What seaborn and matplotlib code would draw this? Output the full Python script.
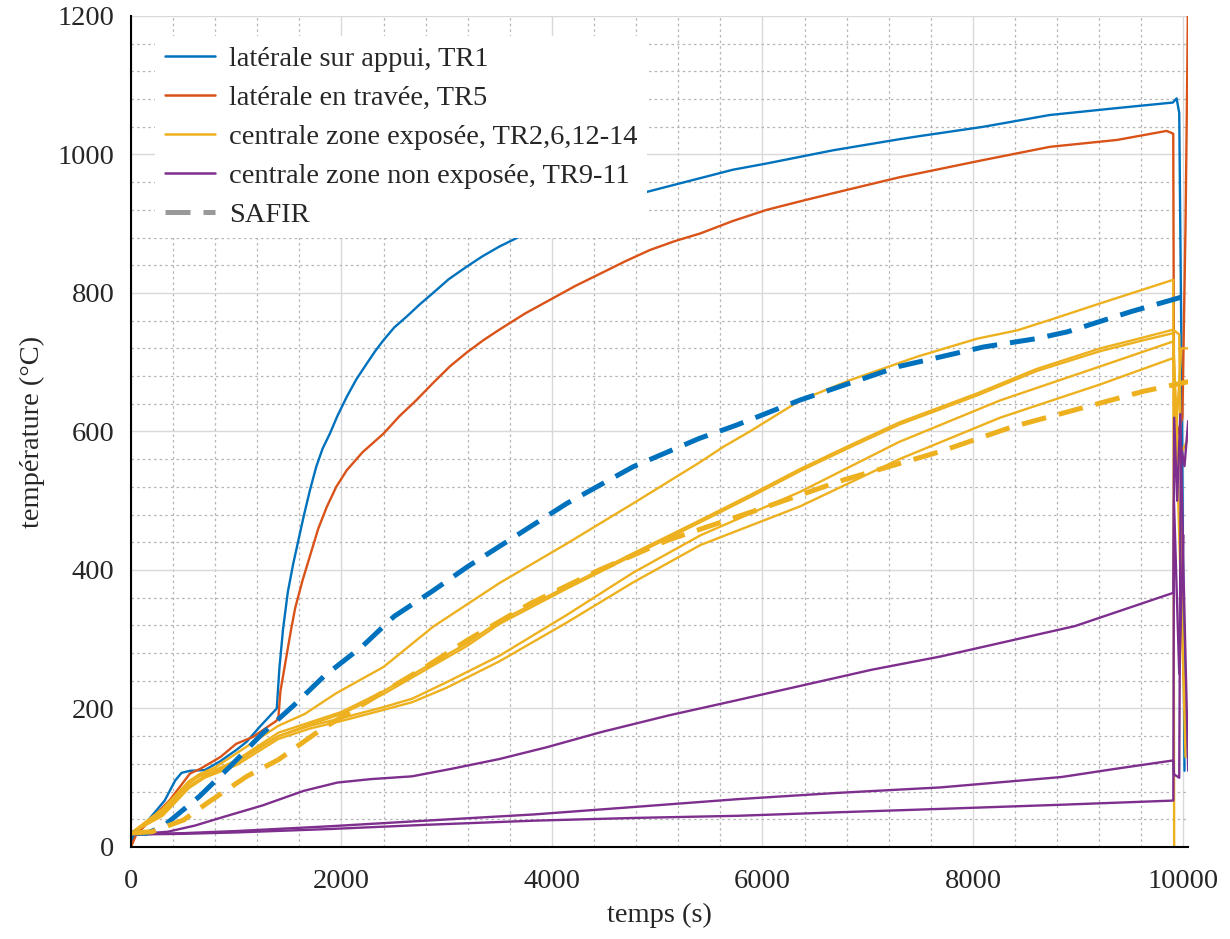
import matplotlib
matplotlib.use('Agg')
import matplotlib.pyplot as plt
import numpy as np
import pandas as pd
import seaborn as sns
from matplotlib.lines import Line2D
from matplotlib.ticker import MultipleLocator

# --- data (time in s, temperature in degC) ---
tr1_t = [0, 20, 60, 160, 320, 420, 480, 560, 700, 850, 1000, 1100, 1220, 1385, 1410, 1445,
         1490, 1540, 1640, 1700, 1760, 1820, 1890, 1960, 2050, 2140, 2240, 2320, 2400, 2500,
         2620, 2740, 2870, 3020, 3190, 3340, 3500, 3700, 3890, 4150, 4400, 4700, 5030, 5720,
         6040, 6670, 7300, 7470, 8100, 8730, 9370, 9900, 9935, 9960, 9985, 10010]
tr1_T = [0, 15, 20, 38, 67, 96, 107, 110, 111, 124, 140, 152, 173, 200, 258, 315,
         368, 408, 477, 515, 549, 575, 597, 622, 650, 675, 698, 716, 732, 750,
         766, 783, 800, 820, 838, 853, 867, 882, 895, 912, 925, 938, 951, 978,
         987, 1006, 1022, 1026, 1040, 1057, 1067, 1075, 1081, 1060, 650, 110]

tr5_t = [0, 50, 160, 370, 560, 660, 850, 1000, 1160, 1380, 1400, 1420, 1480, 1520, 1560,
         1630, 1700, 1780, 1860, 1950, 2050, 2200, 2400, 2550, 2710, 2870, 3030, 3190, 3350,
         3500, 3740, 3980, 4220, 4460, 4700, 4930, 5170, 5410, 5720, 6040, 6350, 6670,
         7300, 8100, 8730, 9370, 9840, 9903, 9912, 9950, 9990, 10020, 10035, 10048]
tr5_T = [0, 18, 35, 68, 106, 113, 130, 149, 159, 182, 186, 225, 278, 313, 345,
         385, 420, 460, 491, 520, 544, 570, 597, 622, 645, 670, 694, 714, 732,
         747, 770, 790, 810, 828, 846, 862, 875, 886, 904, 920, 932, 944,
         967, 992, 1011, 1021, 1034, 1030, 580, 600, 620, 900, 1100, 1300]

# central zone, exposed (TR2, 6, 12-14)
ce1_t = [0, 300, 500, 650, 800, 1000, 1200, 1400, 1650, 1950, 2400, 2870, 3500, 4140,
         4770, 5400, 5630, 5880, 6360, 6830, 7470, 8040, 8420, 8730, 9210, 9903, 9912]
ce1_T = [20, 50, 85, 105, 115, 135, 155, 175, 192, 222, 260, 318, 381, 438,
         496, 555, 578, 600, 645, 674, 708, 734, 746, 761, 785, 819, -20]
ce2_t = [0, 300, 550, 650, 750, 1000, 1200, 1400, 1700, 2000, 2400, 2800, 3190, 3500,
         4140, 4770, 5410, 5880, 6360, 6830, 7300, 8040, 8600, 9210, 9600, 9903, 9960, 9990, 10020]
ce2_T = [20, 55, 95, 105, 108, 125, 145, 165, 180, 195, 225, 260, 294, 326,
         376, 424, 472, 508, 546, 580, 613, 655, 690, 720, 735, 747, 740, 300, 130]
ce3_t = [0, 300, 550, 650, 750, 1000, 1200, 1400, 1700, 2000, 2400, 2800, 3190, 3500,
         4140, 4770, 5410, 5880, 6360, 6830, 7300, 8040, 8600, 9210, 9600, 9903, 9930, 9980, 10048]
ce3_T = [20, 52, 92, 102, 106, 122, 142, 160, 177, 192, 221, 256, 290, 322,
         373, 421, 469, 505, 543, 577, 610, 652, 687, 716, 731, 742, 600, 720, 720]
ce4_t = [0, 300, 550, 700, 1000, 1400, 1700, 2000, 2400, 2670, 3000, 3500, 4140, 4770,
         5410, 6360, 7300, 8260, 9210, 9903, 9950, 10048]
ce4_T = [20, 48, 88, 102, 122, 160, 175, 186, 202, 214, 238, 276, 335, 396,
         450, 513, 585, 645, 694, 730, 560, 590]
ce5_t = [0, 300, 550, 700, 1000, 1400, 1700, 2000, 2400, 2670, 3000, 3500, 4140, 4770,
         5410, 6360, 7300, 8260, 9210, 9903, 9920, 10000, 10048]
ce5_T = [20, 45, 85, 100, 118, 156, 171, 182, 198, 209, 230, 268, 324, 382,
         436, 492, 560, 620, 668, 706, 650, 250, 120]

# central zone, not exposed (TR9-11)
cn1_t = [0, 350, 610, 870, 1250, 1380, 1640, 1960, 2280, 2670, 3050, 3500, 3950, 4470,
         5110, 5760, 6400, 7040, 7690, 8330, 8970, 9904, 9912, 9940, 9970, 10000, 10045]
cn1_T = [18, 22, 31, 43, 60, 67, 81, 93, 98, 102, 113, 127, 144, 166,
         190, 212, 234, 256, 275, 297, 319, 367, 620, 500, 625, 400, 110]
cn2_t = [0, 500, 1000, 1900, 2800, 3830, 4800, 5760, 6700, 7690, 8840, 9360, 9904,
         9910, 9960, 9975, 10010, 10045]
cn2_T = [18, 20, 23, 30, 38, 47, 58, 69, 78, 86, 101, 113, 125,
         105, 100, 580, 550, 615]
cn3_t = [0, 500, 1000, 1900, 2800, 3830, 4800, 5760, 6700, 7690, 8840, 9904,
         9910, 9960, 10000]
cn3_T = [18, 19, 21, 26, 32, 38, 42, 45, 50, 55, 61, 67,
         500, 250, 450]

# SAFIR simulations
safir1_t = [0, 150, 300, 650, 940, 1250, 1550, 1830, 2200, 2500, 2850, 3200, 3500, 4140,
            4770, 5400, 5750, 6350, 7300, 8100, 8600, 8900, 9500, 10050]
safir1_T = [20, 20, 29, 73, 116, 164, 205, 246, 290, 333, 368, 405, 434, 496,
            549, 590, 609, 645, 694, 722, 734, 744, 773, 797]
safir2_t = [0, 200, 500, 720, 1100, 1400, 1800, 2400, 2800, 3200, 3800, 4450, 5100,
            5900, 6770, 7690, 8380, 9210, 9620, 10050]
safir2_T = [20, 22, 39, 63, 102, 126, 169, 224, 260, 299, 352, 400, 443,
            484, 530, 571, 607, 641, 658, 672]

labels = ['latérale sur appui, TR1', 'latérale en travée, TR5',
          'centrale zone exposée, TR2,6,12-14', 'centrale zone non exposée, TR9-11', 'SAFIR']

c_blue, c_orange, c_yellow, c_purple = '#0072BD', '#D95319', '#EDB120', '#7E2F8E'
fs = 20.5

sns.set_theme(style='white')
plt.rcParams['font.family'] = ['Liberation Serif', 'DejaVu Serif']
plt.rcParams['font.size'] = fs

fig, ax = plt.subplots(figsize=(12.3, 9.39), dpi=100)
fig.subplots_adjust(left=0.1065, right=0.966, top=0.983, bottom=0.098)

solid = [(tr1_t, tr1_T, c_blue), (tr5_t, tr5_T, c_orange),
         (ce1_t, ce1_T, c_yellow), (ce2_t, ce2_T, c_yellow), (ce3_t, ce3_T, c_yellow),
         (ce4_t, ce4_T, c_yellow), (ce5_t, ce5_T, c_yellow),
         (cn1_t, cn1_T, c_purple), (cn2_t, cn2_T, c_purple), (cn3_t, cn3_T, c_purple)]
for t, T, c in solid:
    df = pd.DataFrame({'t': t, 'T': T})
    sns.lineplot(data=df, x='t', y='T', ax=ax, color=c, linewidth=1.7,
                 sort=False, estimator=None, legend=False)

for t, T, c in [(safir1_t, safir1_T, c_blue), (safir2_t, safir2_T, c_yellow)]:
    df = pd.DataFrame({'t': t, 'T': T})
    sns.lineplot(data=df, x='t', y='T', ax=ax, color=c, linewidth=3.6,
                 linestyle=(0, (5, 2.6)), sort=False, estimator=None, legend=False)

ax.set_xlim(0, 10045)
ax.set_ylim(0, 1200)
ax.xaxis.set_major_locator(MultipleLocator(2000))
ax.xaxis.set_minor_locator(MultipleLocator(400))
ax.yaxis.set_major_locator(MultipleLocator(200))
ax.yaxis.set_minor_locator(MultipleLocator(40))
ax.grid(which='major', color='#d9d9d9', linewidth=1.0, linestyle='-')
ax.grid(which='minor', color='#b5b5b5', linewidth=0.9, linestyle=(0, (2, 2.5)))
ax.set_axisbelow(True)
ax.tick_params(which='major', direction='in', length=7, width=1.0, color='black',
               labelsize=fs)
ax.tick_params(which='minor', length=0)
ax.tick_params(axis='x', pad=16)
ax.tick_params(axis='y', pad=12)
for side in ['top', 'right']:
    ax.spines[side].set_visible(False)
for side in ['left', 'bottom']:
    ax.spines[side].set_color('black')
    ax.spines[side].set_linewidth(1.5)

ax.set_xlabel('temps (s)', fontsize=fs, labelpad=6)
ax.set_ylabel('température (°C)', fontsize=fs, labelpad=9)

handles = [Line2D([], [], color=c_blue, lw=1.8),
           Line2D([], [], color=c_orange, lw=1.8),
           Line2D([], [], color=c_yellow, lw=1.8),
           Line2D([], [], color=c_purple, lw=1.8),
           Line2D([], [], color='#999999', lw=3.6, linestyle=(0, (5, 2.6)))]
leg = ax.legend(handles, labels, loc='upper left', bbox_to_anchor=(0.0227, 0.9756),
                frameon=True, facecolor='white', framealpha=1, edgecolor='none',
                fontsize=fs, handlelength=1.75, handletextpad=0.5,
                labelspacing=0.46, borderaxespad=0, borderpad=0.35, fancybox=False)
leg.set_zorder(5)

fig.savefig('out.png', dpi=100)
